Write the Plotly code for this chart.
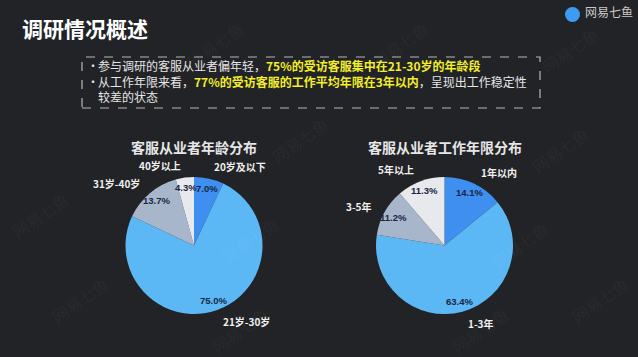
import math
import plotly.graph_objects as go

W, H = 638, 357

# ---- data ----
age_labels = ["20岁及以下", "21岁-30岁", "31岁-40岁", "40岁以上"]
age_values = [7.0, 75.0, 13.7, 4.3]
age_colors = ["#3f8ff0", "#5cb8f4", "#a7b6ca", "#e8e9ec"]

tenure_labels = ["1年以内", "1-3年", "3-5年", "5年以上"]
tenure_values = [14.1, 63.4, 11.2, 11.3]
tenure_colors = ["#3f8ff0", "#5cb8f4", "#a7b6ca", "#e8e9ec"]

main_title = "调研情况概述"
chart_titles = ["客服从业者年龄分布", "客服从业者工作年限分布"]

# ---- layout settings (pixels) ----
BG = "#222326"
R = 68.5
centers = [(194, 245.5), (444.5, 245.5)]

fig = go.Figure()
annotations = []
shapes = []


def px2paper(x, y):
    return x / W, 1 - y / H


for (cx, cy), labels, values, colors, title in zip(
    centers,
    [age_labels, tenure_labels],
    [age_values, tenure_values],
    [age_colors, tenure_colors],
    chart_titles,
):
    fig.add_trace(go.Pie(
        labels=labels, values=values, sort=False, direction="clockwise",
        rotation=0, marker=dict(colors=colors, line=dict(width=0)),
        textinfo="none", hoverinfo="skip", showlegend=False,
        domain=dict(x=[(cx - R) / W, (cx + R) / W],
                    y=[1 - (cy + R) / H, 1 - (cy - R) / H]),
    ))
    total = sum(values)
    cum = 0
    for lab, v in zip(labels, values):
        mid = (cum + v / 2) / total * 2 * math.pi
        cum += v
        s, c = math.sin(mid), math.cos(mid)
        # percentage inside near edge
        x, y = px2paper(cx + 0.85 * R * s, cy - 0.85 * R * c)
        annotations.append(dict(
            x=x, y=y, xref="paper", yref="paper", showarrow=False,
            text=f"<b>{v:.1f}%</b>", xanchor="center", yanchor="middle",
            font=dict(size=9.5, color="#18263f", family="Liberation Sans"),
        ))
        # outer category label
        x, y = px2paper(cx + 1.18 * R * s, cy - 1.18 * R * c)
        annotations.append(dict(
            x=x, y=y, xref="paper", yref="paper", showarrow=False,
            text=f"<b>{lab}</b>", xanchor="left" if s > 0 else "right",
            yanchor="middle",
            font=dict(size=10, color="#f0f0f0", family="Noto Sans CJK SC"),
        ))
    x, y = px2paper(cx, 147)
    annotations.append(dict(
        x=x, y=y, xref="paper", yref="paper", showarrow=False,
        text=f"<b>{title}</b>", xanchor="center", yanchor="middle",
        font=dict(size=14, color="#e6e6e6", family="Noto Sans CJK SC"),
    ))

# main title
x, y = px2paper(20, 28)
annotations.append(dict(
    x=x, y=y, xref="paper", yref="paper", showarrow=False,
    text=f"<b>{main_title}</b>", xanchor="left", yanchor="middle",
    font=dict(size=21, color="#ffffff", family="Noto Sans CJK SC"),
))

# dashed box
shapes.append(dict(
    type="rect", xref="paper", yref="paper",
    x0=82 / W, x1=540 / W, y0=1 - 108 / H, y1=1 - 57 / H,
    line=dict(color="#b8b8b8", width=1.2, dash="dash"),
))

Y = "#f2ee2a"
summary_text = (
    "参与调研的客服从业者偏年轻，"
    f"<b><span style='color:{Y}'>75%的受访客服集中在21-30岁的年龄段</span></b><br>"
    "从工作年限来看，"
    f"<b><span style='color:{Y}'>77%的受访客服的工作平均年限在3年以内</span></b>"
    "，呈现出工作稳定性<br>"
    "较差的状态"
)
x, y = px2paper(85, 81.5)
annotations.append(dict(
    x=x, y=y, xref="paper", yref="paper", showarrow=False,
    text="•<br>•<br> ", xanchor="left", yanchor="middle", align="left",
    font=dict(size=12, color="#e0e0e0", family="Noto Sans CJK SC"),
))
x, y = px2paper(96, 81.5)
annotations.append(dict(
    x=x, y=y, xref="paper", yref="paper", showarrow=False,
    text=summary_text, xanchor="left", yanchor="middle", align="left",
    font=dict(size=12, color="#e6e6e6", family="Noto Sans CJK SC"),
))

# logo top-right
shapes.append(dict(
    type="circle", xref="paper", yref="paper",
    x0=565 / W, x1=580 / W, y0=1 - 22 / H, y1=1 - 7 / H,
    fillcolor="#3d9cf2", line=dict(width=0),
))
x, y = px2paper(583, 12)
annotations.append(dict(
    x=x, y=y, xref="paper", yref="paper", showarrow=False,
    text="网易七鱼", xanchor="left", yanchor="middle",
    font=dict(size=12, color="#c8c8c8", family="Noto Sans CJK SC"),
))

# faint watermarks
for wx, wy in [(215, 45), (400, 45), (570, 50), (40, 215), (300, 140),
               (560, 150), (250, 240), (520, 245), (80, 300), (240, 330),
               (480, 330), (600, 300)]:
    x, y = px2paper(wx, wy)
    annotations.append(dict(
        x=x, y=y, xref="paper", yref="paper", showarrow=False,
        text="网易七鱼", textangle=-35, xanchor="center", yanchor="middle",
        font=dict(size=16, color="rgba(255,255,255,0.05)",
                  family="Noto Sans CJK SC"),
    ))

fig.update_layout(
    width=W, height=H, autosize=False,
    margin=dict(l=0, r=0, t=0, b=0),
    paper_bgcolor=BG, plot_bgcolor=BG,
    annotations=annotations, shapes=shapes,
)
fig.write_html(
    "out.html", config={"displayModeBar": False},
    post_script="document.body.style.margin='0';document.body.style.overflow='hidden';",
)
